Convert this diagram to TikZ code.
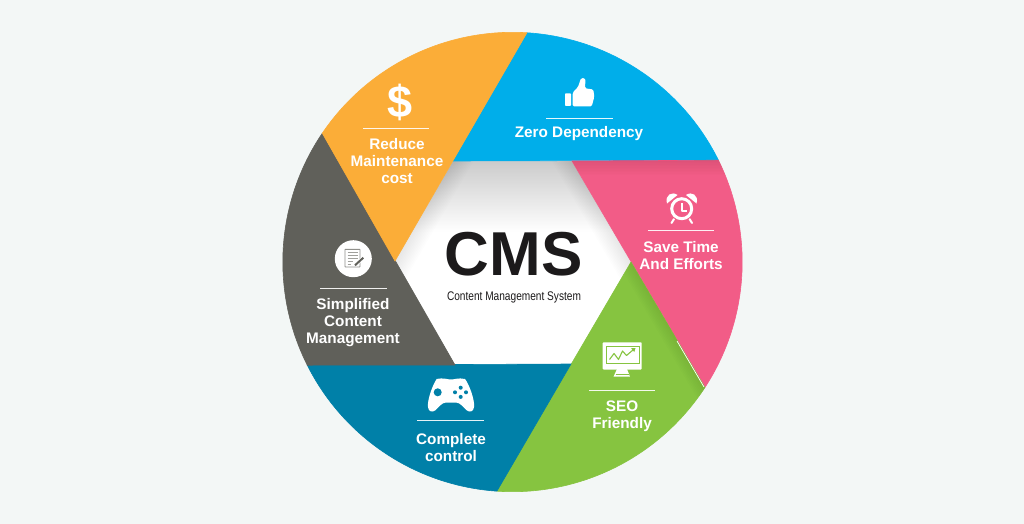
\documentclass[tikz,border=0pt]{standalone}
\usepackage{fontspec}
\setmainfont{Liberation Sans}
\definecolor{pagegrey}{HTML}{F3F7F6}
\definecolor{bladeorange}{HTML}{FBAD38}
\definecolor{bladeblue}{HTML}{00AEEA}
\definecolor{bladepink}{HTML}{F25C87}
\definecolor{bladegreen}{HTML}{86C440}
\definecolor{bladeteal}{HTML}{0080A8}
\definecolor{bladeslate}{HTML}{60605A}
\definecolor{inkblack}{HTML}{1C1A1B}
\definecolor{hubshade}{HTML}{CBCBCB}
\tikzset{
    bladetext/.style={text=white, inner sep=0pt, align=center,
        font=\fontsize{15.3}{17}\selectfont\bfseries},
    rulewhite/.style={draw=white, line width=0.9pt, opacity=0.9},
}
\begin{document}
\begin{tikzpicture}[x=1pt, y=-1pt]

    \useasboundingbox (0, 0) rectangle (1024, 524);
    \fill [pagegrey] (0, 0) rectangle (1024, 524);
    \coordinate (hub) at (512.5, 262);

    % Hexagon
        \fill [white] (453, 161) -- (572, 161) -- (631, 262) -- (571, 364)
            -- (455, 365) -- (395, 261) -- cycle;
        \begin{scope}
            \clip (453, 161) -- (572, 161) -- (631, 262) -- (571, 364)
                -- (455, 365) -- (395, 261) -- cycle;
            \shade [top color=hubshade, bottom color=white] (390, 161) rectangle (635, 232);
            \foreach \w in {3, 6, ..., 36} {
                \draw [black, opacity=0.007, line width=\w] (476, 121) -- (372, 301);
                \draw [black, opacity=0.008, line width=\w] (549, 121) -- (654, 301);
            }
        \end{scope}

    % Blades
        %% blue
        \filldraw [bladeblue, line width=0.6pt] (453, 161) -- ([shift={(-86.4:229.7)}]hub)
            arc [start angle=-86.4, end angle=-26.3, radius=229.7] -- cycle;

        %% pink
        \filldraw [bladepink, line width=0.6pt] (572, 161) -- ([shift={(-26.3:229.7)}]hub)
            arc [start angle=-26.3, end angle=33.1, radius=229.7] -- cycle;

        %% green
        \filldraw [bladegreen, line width=0.6pt] (631, 262) -- ([shift={(33.1:229.7)}]hub)
            arc [start angle=33.1, end angle=93.9, radius=229.7] -- cycle;

        %% teal
        \filldraw [bladeteal, line width=0.6pt] (571, 364) -- ([shift={(93.9:229.7)}]hub)
            arc [start angle=93.9, end angle=153.3, radius=229.7] -- cycle;

        %% slate
        \filldraw [bladeslate, line width=0.6pt] (455, 365) -- ([shift={(153.3:229.7)}]hub)
            arc [start angle=153.3, end angle=214.1, radius=229.7] -- cycle;

        %% orange
        \filldraw [bladeorange, line width=0.6pt] (395, 261) -- ([shift={(214.1:229.7)}]hub)
            arc [start angle=214.1, end angle=273.6, radius=229.7] -- cycle;

    % Blade shadows
        \begin{scope}
            \clip (572, 161) -- ([shift={(-26.3:230)}]hub)
                arc [start angle=-26.3, end angle=33.1, radius=230] -- cycle;
            \foreach \w in {3, 6, ..., 30} {
                \draw [black, opacity=0.008, line width=\w] (560, 160) -- (730, 160);
            }
        \end{scope}
        \begin{scope}
            \clip (631, 262) -- ([shift={(33.1:230)}]hub)
                arc [start angle=33.1, end angle=93.9, radius=230] -- cycle;
            \foreach \w in {3, 6, ..., 24} {
                \draw [black, opacity=0.008, line width=\w] (620, 243) -- (716, 407);
            }
        \end{scope}
        \draw [white, line width=0.7pt] (677, 341) -- (704, 387);

    % Centre text
        \node [inner sep=0pt, text=inkblack, font=\fontsize{62}{62}\selectfont\bfseries]
            (cmstitle) at (513.5, 254) {CMS};
        \node [inner sep=0pt, text=inkblack, font=\fontsize{12.5}{12.5}\selectfont]
            (cmssub) at (514, 297) {\scalebox{0.81}[1]{Content Management System}};

    % Orange: dollar
        \node [inner sep=0pt, text=white, font=\fontsize{45}{45}\selectfont\bfseries]
            (dollaricon) at (400, 102) {\$};
        \draw [rulewhite] (363, 128) -- (429, 128);
        \node [bladetext] (reducetext) at (397, 161) {Reduce\\Maintenance\\cost};

    % Blue: thumb
        \fill [white, rounded corners=0.8pt] (565, 93.3) rectangle (571, 106);
        \fill [white, rounded corners=1.5pt] (572.7, 92.5) -- (578, 87) -- (581, 78)
            -- (585.5, 78.5) -- (585, 88.3) -- (593.3, 89.5) -- (594.3, 96.7)
            -- (591.7, 106.5) -- (572.7, 106.5) -- cycle;
        \draw [rulewhite] (546, 118) -- (613, 118);
        \node [bladetext] (zerotext) at (579, 134) {Zero Dependency};

    % Pink: clock
        \fill [white] (667, 203.5) .. controls (664.5, 195) and (672, 191) .. (677.5, 195) -- cycle;
        \fill [white] (696.5, 203.5) .. controls (699, 195) and (691.5, 191) .. (686, 195) -- cycle;
        \draw [white, line width=2pt, line cap=round] (674, 219) -- (671.5, 223)
            (689.5, 219) -- (692, 223);
        \fill [bladepink] (681.7, 208.7) circle [radius=12.5];
        \draw [white, line width=3pt] (681.7, 208.7) circle [radius=10];
        \draw [white, line width=1.6pt, line join=round] (681.7, 203) -- (681.7, 210.7) -- (687.3, 210.7);
        \draw [rulewhite] (648, 230) -- (714, 230);
        \node [bladetext] (savetext) at (681, 255.5) {Save Time\\And Efforts};

    % Green: monitor
        \fill [white, rounded corners=0.8pt] (602.7, 342.3) rectangle (641.7, 369.5);
        \draw [bladegreen, line width=0.9pt] (606, 346) rectangle (639, 363.3);
        \draw [bladegreen, line width=1.1pt, line join=round] (609.5, 359.5) -- (614, 353.5)
            -- (618.5, 359.5) -- (622.5, 351) -- (626.5, 355.5) -- (633.5, 349.5);
        \fill [bladegreen] (635.5, 348) -- (631, 348.3) -- (634.3, 352) -- cycle;
        \fill [white] (617, 369) -- (627, 369) -- (630, 376.7) -- (613.5, 376.7) -- cycle;
        \draw [bladegreen, line width=0.5pt] (615.5, 374.2) -- (628.5, 374.2);
        \draw [rulewhite] (589, 390) -- (655, 390);
        \node [bladetext] (seotext) at (622, 416.5) {SEO\\Friendly};

    % Teal: gamepad
        \fill [white] (436.7, 379) .. controls (444, 377.5) and (447, 379.5) .. (451, 379.5)
            .. controls (455, 379.5) and (458, 377.5) .. (465, 379)
            .. controls (469, 384) and (475, 400) .. (474, 407)
            .. controls (473.5, 412) and (469.5, 412.5) .. (467, 410.5)
            .. controls (463, 407) and (460, 402.7) .. (456.7, 402.7)
            -- (445.3, 402.7)
            .. controls (442, 402.7) and (439, 407) .. (435, 410.5)
            .. controls (432.5, 412.5) and (428.5, 412) .. (428, 407)
            .. controls (427, 400) and (433, 384) .. (436.7, 379) -- cycle;
        \fill [bladeteal] (437.7, 392.3) circle [radius=4];
        \fill [bladeteal] (460.7, 387.7) circle [radius=2];
        \fill [bladeteal] (455, 392.3) circle [radius=2];
        \fill [bladeteal] (466, 392.3) circle [radius=2];
        \fill [bladeteal] (460.7, 396.9) circle [radius=2];
        \draw [rulewhite] (417, 420) -- (484, 420);
        \node [bladetext] (completetext) at (451, 447.5) {Complete\\control};

    % Slate: notes
        \fill [white] (353.3, 258.7) circle [radius=18.5];
        \draw [bladeslate!70, line width=0.9pt, fill=white, rounded corners=0.5pt] (345, 249.3) rectangle (360, 267);
        \draw [bladeslate!60, line width=1pt] (347.5, 252.5) -- (357.5, 252.5)
            (347.5, 255.5) -- (357.5, 255.5) (347.5, 258.5) -- (357.5, 258.5)
            (347.5, 261.5) -- (353, 261.5) (347.5, 264.5) -- (351, 264.5);
        \draw [white, line width=3.4pt] (355, 265.3) -- (363.3, 257.7);
        \draw [bladeslate, line width=2pt] (355, 265.3) -- (363.3, 257.7);
        \draw [rulewhite] (320, 288) -- (387, 288);
        \node [bladetext] (simplifiedtext) at (353, 323) {Simplified\\Content\\Management};

\end{tikzpicture}
\end{document}
